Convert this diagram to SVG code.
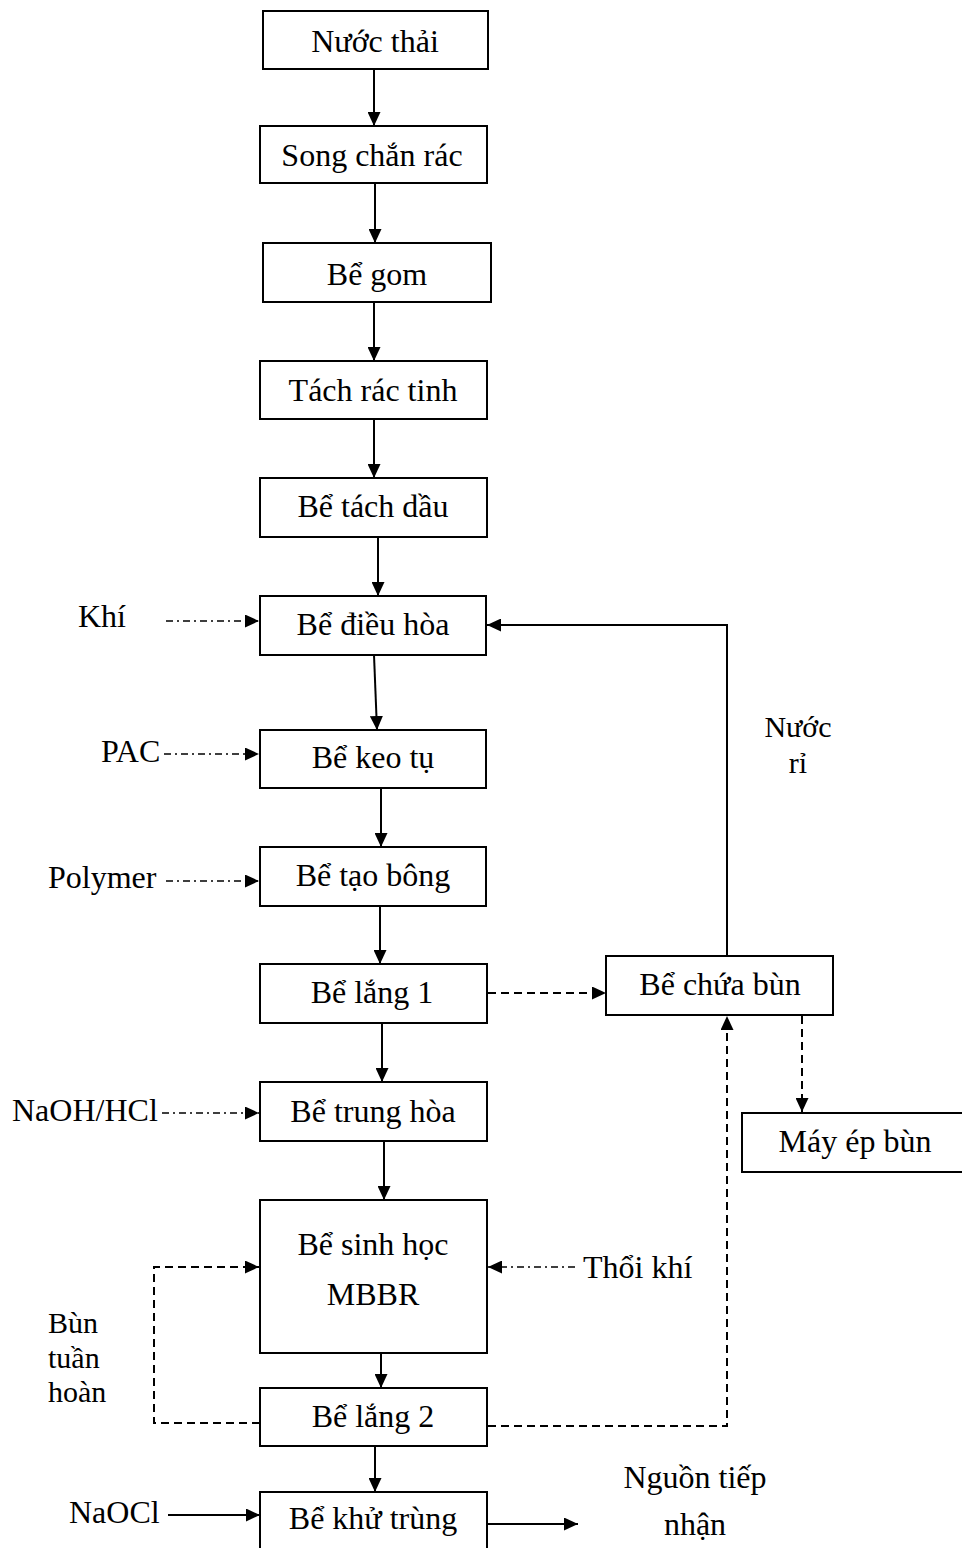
<svg xmlns="http://www.w3.org/2000/svg" width="962" height="1548" viewBox="0 0 962 1548" font-family="'Liberation Serif', serif">
<style>
.box{fill:#fff;stroke:#000;stroke-width:2}
.t{font-family:'Liberation Serif',serif;font-size:32px;fill:#000;text-anchor:middle}
.l{font-family:'Liberation Serif',serif;font-size:32px;fill:#000}
.s{font-family:'Liberation Serif',serif;font-size:30px;fill:#000}
.sc{font-family:'Liberation Serif',serif;font-size:30px;fill:#000;text-anchor:middle}
.ln{fill:none;stroke:#000;stroke-width:2}
.dash{fill:none;stroke:#000;stroke-width:2;stroke-dasharray:8 5}
.dd{fill:none;stroke:#000;stroke-width:1.6;stroke-dasharray:7 4 2 4}
</style>
<defs>
<marker id="ah" viewBox="0 0 14 13" refX="14" refY="6.5" markerWidth="14" markerHeight="13" orient="auto" markerUnits="userSpaceOnUse">
<path d="M0,0 L14,6.5 L0,13 z" fill="#000"/>
</marker>
</defs>
<rect width="962" height="1548" fill="#fff"/>
<g id="connectors">
<line class="ln" x1="374" y1="69" x2="374" y2="126" marker-end="url(#ah)"/>
<line class="ln" x1="375" y1="183" x2="375" y2="243" marker-end="url(#ah)"/>
<line class="ln" x1="374" y1="302" x2="374" y2="361" marker-end="url(#ah)"/>
<line class="ln" x1="374" y1="419" x2="374" y2="478" marker-end="url(#ah)"/>
<line class="ln" x1="378" y1="537" x2="378" y2="596" marker-end="url(#ah)"/>
<line class="ln" x1="374" y1="655" x2="377" y2="730" marker-end="url(#ah)"/>
<line class="ln" x1="381" y1="788" x2="381" y2="847" marker-end="url(#ah)"/>
<line class="ln" x1="380" y1="906" x2="380" y2="964" marker-end="url(#ah)"/>
<line class="ln" x1="382" y1="1023" x2="382" y2="1082" marker-end="url(#ah)"/>
<line class="ln" x1="384" y1="1141" x2="384" y2="1200" marker-end="url(#ah)"/>
<line class="ln" x1="381" y1="1353" x2="381" y2="1388" marker-end="url(#ah)"/>
<line class="ln" x1="375" y1="1446" x2="375" y2="1492" marker-end="url(#ah)"/>
<line class="dd" x1="166" y1="621" x2="259" y2="621" marker-end="url(#ah)"/>
<line class="dd" x1="164" y1="754" x2="259" y2="754" marker-end="url(#ah)"/>
<line class="dd" x1="166" y1="881" x2="259" y2="881" marker-end="url(#ah)"/>
<line class="dd" x1="162" y1="1113" x2="259" y2="1113" marker-end="url(#ah)"/>
<line class="dd" x1="575" y1="1267" x2="488" y2="1267" marker-end="url(#ah)"/>
<polyline class="ln" points="727,956 727,625 487,625" marker-end="url(#ah)"/>
<line class="dash" x1="488" y1="993" x2="606" y2="993" marker-end="url(#ah)"/>
<line class="dash" x1="802" y1="1016" x2="802" y2="1112" marker-end="url(#ah)"/>
<polyline class="dash" points="488,1426 727,1426 727,1016" marker-end="url(#ah)"/>
<polyline class="dash" points="260,1423 154,1423 154,1267 259,1267" marker-end="url(#ah)"/>
<line class="ln" x1="168" y1="1515" x2="260" y2="1515" marker-end="url(#ah)"/>
<line class="ln" x1="488" y1="1524" x2="578" y2="1524" marker-end="url(#ah)"/>
</g>
<g id="n1"><rect class="box" x="263" y="11" width="225" height="58"/><text class="t" x="375" y="52">Nước thải</text></g>
<g id="n2"><rect class="box" x="260" y="126" width="227" height="57"/><text class="t" x="372" y="166">Song chắn rác</text></g>
<g id="n3"><rect class="box" x="263" y="243" width="228" height="59"/><text class="t" x="377" y="285">Bể gom</text></g>
<g id="n4"><rect class="box" x="260" y="361" width="227" height="58"/><text class="t" x="373" y="401">Tách rác tinh</text></g>
<g id="n5"><rect class="box" x="260" y="478" width="227" height="59"/><text class="t" x="373" y="517">Bể tách dầu</text></g>
<g id="n6"><rect class="box" x="260" y="596" width="226" height="59"/><text class="t" x="373" y="635">Bể điều hòa</text></g>
<g id="n7"><rect class="box" x="260" y="730" width="226" height="58"/><text class="t" x="373" y="768">Bể keo tụ</text></g>
<g id="n8"><rect class="box" x="260" y="847" width="226" height="59"/><text class="t" x="373" y="886">Bể tạo bông</text></g>
<g id="n9"><rect class="box" x="260" y="964" width="227" height="59"/><text class="t" x="372" y="1003">Bể lắng 1</text></g>
<g id="n10"><rect class="box" x="260" y="1082" width="227" height="59"/><text class="t" x="373" y="1122">Bể trung hòa</text></g>
<g id="n11"><rect class="box" x="260" y="1200" width="227" height="153"/><text class="t" x="373" y="1255">Bể sinh học</text><text class="t" x="373" y="1305">MBBR</text></g>
<g id="n12"><rect class="box" x="260" y="1388" width="227" height="58"/><text class="t" x="373" y="1427">Bể lắng 2</text></g>
<g id="n13"><rect class="box" x="260" y="1492" width="227" height="70"/><text class="t" x="373" y="1529">Bể khử trùng</text></g>
<g id="n14"><rect class="box" x="606" y="956" width="227" height="59"/><text class="t" x="720" y="995">Bể chứa bùn</text></g>
<g id="n15"><rect class="box" x="742" y="1113" width="240" height="59"/><text class="t" x="855" y="1152">Máy ép bùn</text></g>
<g id="labels">
<text class="l" x="78" y="627">Khí</text>
<text class="l" x="101" y="762">PAC</text>
<text class="l" x="48" y="888">Polymer</text>
<text class="l" x="12" y="1121">NaOH/HCl</text>
<text class="l" x="583" y="1278">Thổi khí</text>
<text class="l" x="69" y="1523">NaOCl</text>
<text class="sc" x="798" y="737">Nước</text>
<text class="sc" x="798" y="773">rỉ</text>
<text class="s" x="48" y="1333">Bùn</text>
<text class="s" x="48" y="1368">tuần</text>
<text class="s" x="48" y="1402">hoàn</text>
<text class="t" x="695" y="1488">Nguồn tiếp</text>
<text class="t" x="695" y="1535">nhận</text>
</g>
</svg>
